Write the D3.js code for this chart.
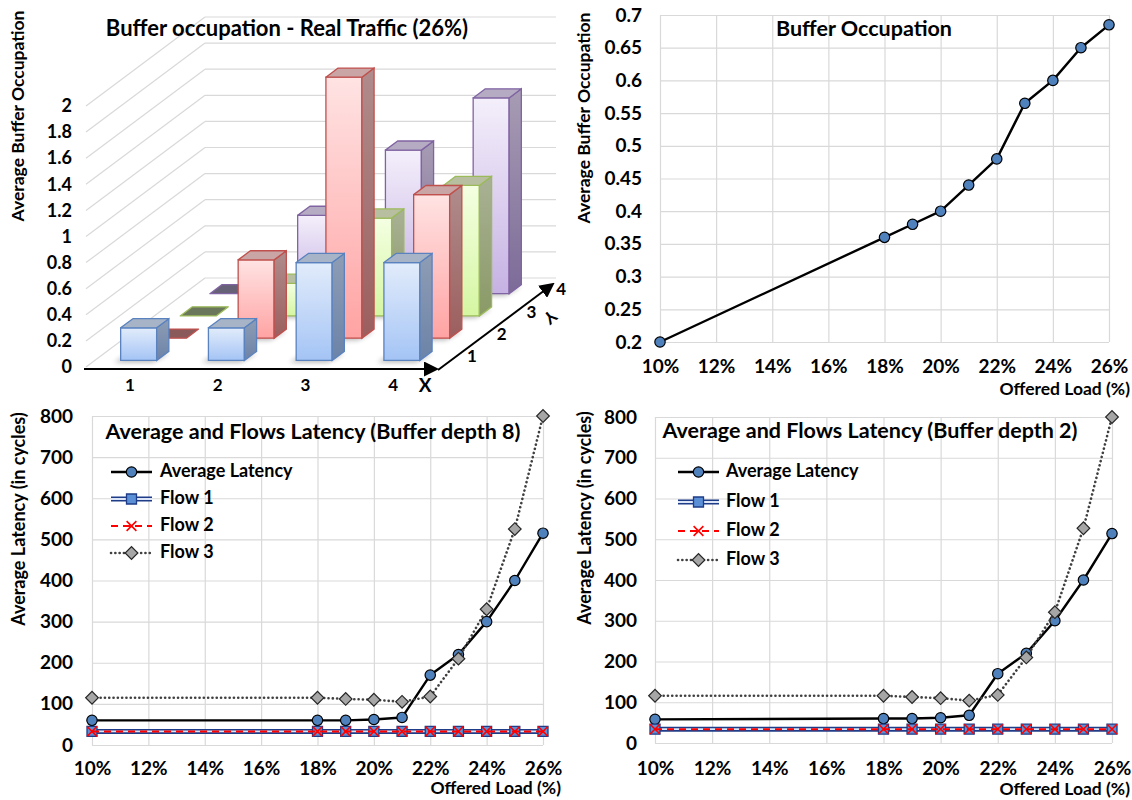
<!DOCTYPE html>
<html>
<head>
<meta charset="utf-8">
<script src="https://cdn.jsdelivr.net/npm/d3@7"></script>
<style>
  body { margin: 0; background: #fff; }
  svg { font-family: Lato, 'Open Sans', sans-serif; font-weight: bold; }
</style>
</head>
<body>
<div id="chart"></div>
<script>
'use strict';

// ---- data: 3D buffer occupation at 26% (rows = Y position, cols = X position)
const xCats = [1, 2, 3, 4];
const yCats = [1, 2, 3, 4];
const occRow1 = [0.25, 0.25, 0.75, 0.75];
const occRow2 = [0, 0.6, 2.0, 1.1];
const occRow3 = [0, 0.25, 0.75, 1.0];
const occRow4 = [0, 0.6, 1.1, 1.5];

// ---- data: offered load sweeps
const loads = [10, 18, 19, 20, 21, 22, 23, 24, 25, 26];
const xTickVals = [10, 12, 14, 16, 18, 20, 22, 24, 26];
const bufferOcc = [0.2, 0.36, 0.38, 0.4, 0.44, 0.48, 0.565, 0.6, 0.65, 0.685];

const avgLatD8   = [60, 60, 60, 62, 67, 170, 220, 300, 400, 515];
const flow1LatD8 = [33, 33, 33, 33, 33, 33, 33, 33, 33, 33];
const flow2LatD8 = [33, 33, 33, 33, 33, 33, 33, 33, 33, 33];
const flow3LatD8 = [115, 115, 112, 110, 105, 118, 210, 330, 525, 800];

const avgLatD2   = [58, 60, 60, 62, 68, 170, 220, 300, 400, 514];
const flow1LatD2 = [34, 34, 34, 34, 34, 34, 34, 34, 34, 34];
const flow2LatD2 = [34, 34, 34, 34, 34, 34, 34, 34, 34, 34];
const flow3LatD2 = [116, 116, 113, 110, 104, 118, 210, 321, 527, 800];

const seriesNames = ['Average Latency', 'Flow 1', 'Flow 2', 'Flow 3'];

const GRID = '#d9d9d9';

const svg = d3.select('#chart').append('svg')
  .attr('width', 1132).attr('height', 800)
  .attr('viewBox', '0 0 1132 800');

const defs = svg.append('defs');

// bar colours (front gradient, border, side, top, flat top)
const BAR = [
  { id: 'blue',   f0: '#e2ecfb', f1: '#a4c4f5', stroke: '#5a82bf', s0: '#8e9db5', s1: '#6c83a8', top: '#a7b4c7', flat: '#7a8aa5' },
  { id: 'red',    f0: '#ffe3e3', f1: '#ffa3a3', stroke: '#c0504d', s0: '#b08c8c', s1: '#9c5e5e', top: '#c9a5a5', flat: '#8a5a5a' },
  { id: 'green',  f0: '#f4ffe2', f1: '#d5f6a2', stroke: '#9bbb59', s0: '#a9b195', s1: '#8a9a66', top: '#b8bea0', flat: '#6b775a' },
  { id: 'purple', f0: '#f4effb', f1: '#c6b2e3', stroke: '#8064a2', s0: '#a79cb4', s1: '#7c6b98', top: '#b5abc3', flat: '#676178' }
];

BAR.forEach(c => {
  const gf = defs.append('linearGradient').attr('id', 'front-' + c.id)
    .attr('x1', 0).attr('y1', 0).attr('x2', 0).attr('y2', 1);
  gf.append('stop').attr('offset', '0%').attr('stop-color', c.f0);
  gf.append('stop').attr('offset', '100%').attr('stop-color', c.f1);
  const gs = defs.append('linearGradient').attr('id', 'side-' + c.id)
    .attr('x1', 0).attr('y1', 0).attr('x2', 0).attr('y2', 1);
  gs.append('stop').attr('offset', '0%').attr('stop-color', c.s0);
  gs.append('stop').attr('offset', '100%').attr('stop-color', c.s1);
});

defs.append('filter').attr('id', 'blur')
  .attr('x', '-50%').attr('y', '-50%').attr('width', '200%').attr('height', '200%')
  .append('feGaussianBlur').attr('stdDeviation', 2.5);

defs.append('marker').attr('id', 'arrow')
  .attr('viewBox', '0 0 10 10').attr('refX', 2).attr('refY', 5)
  .attr('markerWidth', 15).attr('markerHeight', 15).attr('markerUnits', 'userSpaceOnUse')
  .attr('orient', 'auto')
  .append('path').attr('d', 'M0,0 L10,5 L0,10 z').attr('fill', '#000');

// ------------------------------------------
// Panel A: 3D bars
// ------------------------------------------
(function () {
  const g = svg.append('g');
  const depth = [119, -89];
  const yV = d3.scaleLinear().domain([0, 2]).range([367, 106]);
  const xBand = d3.scaleBand().domain(xCats).range([86, 437]);
  const dBand = d3.scaleBand().domain(yCats).range([0, 1]);
  const P = (x, d, v) => [x + d * depth[0], yV(v) + d * depth[1]];
  const poly = pts => 'M' + pts.map(p => p.join(',')).join('L') + 'Z';

  // walls
  const ticks = yV.ticks(10);
  g.append('g').selectAll('line.side').data(ticks).join('line')
    .attr('x1', v => P(86, 0, v)[0]).attr('y1', v => P(86, 0, v)[1])
    .attr('x2', v => P(86, 1, v)[0]).attr('y2', v => P(86, 1, v)[1])
    .attr('stroke', GRID).attr('stroke-width', 1.2);
  g.append('g').selectAll('line.back').data(ticks).join('line')
    .attr('x1', v => P(86, 1, v)[0]).attr('y1', v => P(86, 1, v)[1])
    .attr('x2', v => P(437, 1, v)[0]).attr('y2', v => P(437, 1, v)[1])
    .attr('stroke', GRID).attr('stroke-width', 1.2);

  const ya = g.append('g').attr('transform', 'translate(86,0)')
    .call(d3.axisLeft(yV).ticks(10).tickFormat(d3.format('~g')).tickSize(0).tickPadding(14));
  ya.select('.domain').remove();
  ya.attr('font-size', 18).attr('font-family', null);

  const xa = g.append('g').attr('transform', 'translate(0,369)')
    .call(d3.axisBottom(xBand).tickSize(0).tickPadding(10));
  xa.select('.domain').remove();
  xa.attr('font-size', 17).attr('font-family', null);

  // bars, back row first
  const rows = [occRow1, occRow2, occRow3, occRow4];
  const bars = [];
  yCats.forEach((r, ri) => xCats.forEach((c, ci) => bars.push({ row: r, col: c, v: rows[ri][ci], color: BAR[ri] })));
  bars.sort((a, b) => d3.descending(a.row, b.row) || d3.ascending(a.col, b.col));

  const gb = g.append('g');
  bars.forEach(b => {
    const bw = xBand.bandwidth() * 0.41;
    const x0 = xBand(b.col) + (xBand.bandwidth() - bw) / 2, x1 = x0 + bw;
    const dd = dBand.bandwidth() * 0.41;
    const d0 = dBand(b.row) + (dBand.bandwidth() - dd) / 2, d1 = d0 + dd;
    const c = b.color;
    const bg = gb.append('g');
    if (b.v > 0) {
      bg.append('path')
        .attr('d', poly([P(x0 - 7, d0, 0), P(x1 - 4, d0, 0), P(x1, d1, 0), P(x0 - 3, d1, 0)]))
        .attr('transform', 'translate(0,2)')
        .attr('fill', '#000').attr('opacity', 0.28).attr('filter', 'url(#blur)');
      bg.append('path')
        .attr('d', poly([P(x0, d0, 0), P(x1, d0, 0), P(x1, d0, b.v), P(x0, d0, b.v)]))
        .attr('fill', `url(#front-${c.id})`).attr('stroke', c.stroke).attr('stroke-width', 1.3);
      bg.append('path')
        .attr('d', poly([P(x1, d0, 0), P(x1, d1, 0), P(x1, d1, b.v), P(x1, d0, b.v)]))
        .attr('fill', `url(#side-${c.id})`).attr('stroke', c.stroke).attr('stroke-width', 1.3);
    }
    bg.append('path')
      .attr('d', poly([P(x0, d0, b.v), P(x1, d0, b.v), P(x1, d1, b.v), P(x0, d1, b.v)]))
      .attr('fill', b.v > 0 ? c.top : c.flat).attr('stroke', c.stroke).attr('stroke-width', 1.3)
      .attr('stroke-linejoin', 'round');
  });

  // axes arrows
  g.append('line').attr('x1', 84).attr('y1', 369).attr('x2', 427).attr('y2', 369)
    .attr('stroke', '#000').attr('stroke-width', 2).attr('marker-end', 'url(#arrow)');
  g.append('line').attr('x1', 438).attr('y1', 370).attr('x2', 545).attr('y2', 290)
    .attr('stroke', '#000').attr('stroke-width', 2).attr('marker-end', 'url(#arrow)');

  g.append('text').attr('x', 425).attr('y', 387).attr('text-anchor', 'middle')
    .attr('dominant-baseline', 'middle').attr('font-size', 19).text('X');

  g.append('g').selectAll('text').data(yCats).join('text')
    .attr('x', r => P(437, dBand(r) + dBand.bandwidth() / 2, 0)[0] + 20)
    .attr('y', r => P(437, dBand(r) + dBand.bandwidth() / 2, 0)[1] + 2)
    .attr('text-anchor', 'middle').attr('dominant-baseline', 'middle')
    .attr('font-size', 17).text(r => r);

  g.append('text').attr('transform', 'translate(549,316) rotate(140)')
    .attr('text-anchor', 'middle').attr('dominant-baseline', 'middle')
    .attr('font-size', 17).text('Y');

  g.append('text').attr('x', 287).attr('y', 30).attr('text-anchor', 'middle')
    .attr('dominant-baseline', 'middle').attr('font-size', 22)
    .text('Buffer occupation - Real Traffic (26%)');

  g.append('text').attr('transform', 'translate(20,116) rotate(-90)')
    .attr('text-anchor', 'middle').attr('dominant-baseline', 'middle')
    .attr('font-size', 17.5).text('Average Buffer Occupation');
})();

// ------------------------------------------
// line panels
// ------------------------------------------
function drawMarker(g, type, x, y) {
  if (type === 'circle') {
    g.append('circle').attr('cx', x).attr('cy', y).attr('r', 5.2)
      .attr('fill', '#4f81bd').attr('stroke', '#000').attr('stroke-width', 1.2);
  } else if (type === 'square') {
    g.append('path').attr('d', d3.symbol(d3.symbolSquare, 100)())
      .attr('transform', `translate(${x},${y})`)
      .attr('fill', '#5b8fd6').attr('stroke', '#1f3c88').attr('stroke-width', 1.3);
  } else if (type === 'x') {
    g.append('path').attr('d', d3.symbol(d3.symbolX, 64)())
      .attr('transform', `translate(${x},${y})`)
      .attr('fill', 'none').attr('stroke', '#ff0000').attr('stroke-width', 1.6);
  } else if (type === 'diamond') {
    g.append('path').attr('d', d3.symbol(d3.symbolSquare, 80)())
      .attr('transform', `translate(${x},${y}) rotate(45)`)
      .attr('fill', '#a6a6a6').attr('stroke', '#262626').attr('stroke-width', 1.2);
  }
}

const LINE_STYLE = [
  { marker: 'circle',  strokes: [{ c: '#000', w: 2.4 }] },
  { marker: 'square',  strokes: [{ c: '#1f3c88', w: 5 }, { c: '#dde6f6', w: 1.8 }] },
  { marker: 'x',       strokes: [{ c: '#ff0000', w: 2, dash: '7,5' }] },
  { marker: 'diamond', strokes: [{ c: '#404040', w: 2.6, dash: '0.1,4.2', cap: 'round' }] }
];

function linePanel(cfg) {
  const g = svg.append('g');
  const x = d3.scaleLinear().domain([10, 26]).range([cfg.x0, cfg.x1]);
  const y = d3.scaleLinear().domain(cfg.yDomain).range([cfg.y1, cfg.y0]);
  const w = cfg.x1 - cfg.x0, h = cfg.y1 - cfg.y0;

  const xa = g.append('g').attr('transform', `translate(0,${cfg.y1})`)
    .call(d3.axisBottom(x).tickValues(xTickVals).tickFormat(d => d + '%')
      .tickSize(-h).tickSizeOuter(0).tickPadding(cfg.xPad));
  const ya = g.append('g').attr('transform', `translate(${cfg.x0},0)`)
    .call(d3.axisLeft(y).tickValues(cfg.yTicks).tickFormat(cfg.yFmt)
      .tickSize(-w).tickSizeOuter(0).tickPadding(cfg.yPad));
  [xa, ya].forEach(a => {
    a.select('.domain').remove();
    a.attr('font-size', 19).attr('font-family', null);
    a.selectAll('line').attr('stroke', GRID).attr('stroke-width', 1.2);
    a.selectAll('text').attr('fill', '#000');
  });

  const line = d3.line().x((d, i) => x(loads[i])).y(d => y(d));
  cfg.series.forEach((vals, si) => {
    const st = cfg.styles[si];
    st.strokes.forEach(s => {
      g.append('path').attr('d', line(vals)).attr('fill', 'none')
        .attr('stroke', s.c).attr('stroke-width', s.w)
        .attr('stroke-dasharray', s.dash || null)
        .attr('stroke-linecap', s.cap || 'butt')
        .attr('stroke-linejoin', 'round');
    });
    vals.forEach((v, i) => drawMarker(g, st.marker, x(loads[i]), y(v)));
  });

  if (cfg.legend) {
    const L = cfg.legend;
    cfg.series.forEach((vals, si) => {
      const st = cfg.styles[si];
      const ly = L.y[si];
      st.strokes.forEach(s => {
        g.append('line').attr('x1', L.x1).attr('x2', L.x2).attr('y1', ly).attr('y2', ly)
          .attr('stroke', s.c).attr('stroke-width', s.w)
          .attr('stroke-dasharray', s.dash || null)
          .attr('stroke-linecap', s.cap || 'butt');
      });
      drawMarker(g, st.marker, (L.x1 + L.x2) / 2, ly);
      g.append('text').attr('x', L.tx).attr('y', ly).attr('dominant-baseline', 'middle')
        .attr('font-size', 18).text(seriesNames[si]);
    });
  }

  g.append('text').attr('x', cfg.titleX).attr('y', cfg.titleY).attr('text-anchor', 'middle')
    .attr('dominant-baseline', 'middle').attr('font-size', 21.5).text(cfg.title);
  g.append('text').attr('transform', `translate(${cfg.yLabelX},${cfg.yLabelY}) rotate(-90)`)
    .attr('text-anchor', 'middle').attr('dominant-baseline', 'middle')
    .attr('font-size', cfg.yLabelSize).text(cfg.yLabel);
  g.append('text').attr('x', cfg.xLabelX).attr('y', cfg.xLabelY).attr('text-anchor', 'end')
    .attr('dominant-baseline', 'middle').attr('font-size', 17.5).text('Offered Load (%)');
}

// Panel B: buffer occupation vs load
linePanel({
  x0: 660, x1: 1109, y0: 15, y1: 342,
  yDomain: [0.2, 0.7], yTicks: d3.range(0, 11).map(i => 0.2 + i * 0.05),
  yFmt: d => String(+d.toFixed(2)), xPad: 18, yPad: 18,
  series: [bufferOcc], styles: [LINE_STYLE[0]],
  title: 'Buffer Occupation', titleX: 864, titleY: 30,
  yLabel: 'Average Buffer Occupation', yLabelX: 586, yLabelY: 118, yLabelSize: 17.5,
  xLabelX: 1130, xLabelY: 391
});

// Panel C: latency, buffer depth 8
linePanel({
  x0: 92, x1: 543, y0: 416, y1: 745,
  yDomain: [0, 800], yTicks: d3.range(0, 801, 100),
  yFmt: d => d, xPad: 17, yPad: 19,
  series: [avgLatD8, flow1LatD8, flow2LatD8, flow3LatD8], styles: LINE_STYLE,
  legend: { x1: 111, x2: 152, tx: 160, y: [472, 499, 526, 553] },
  title: 'Average and Flows Latency (Buffer depth 8)', titleX: 313, titleY: 433,
  yLabel: 'Average Latency (in cycles)', yLabelX: 20, yLabelY: 519, yLabelSize: 18,
  xLabelX: 561, xLabelY: 790
});

// Panel D: latency, buffer depth 2
linePanel({
  x0: 655, x1: 1112, y0: 417, y1: 743,
  yDomain: [0, 800], yTicks: d3.range(0, 801, 100),
  yFmt: d => d, xPad: 19, yPad: 18,
  series: [avgLatD2, flow1LatD2, flow2LatD2, flow3LatD2], styles: LINE_STYLE,
  legend: { x1: 678, x2: 719, tx: 726, y: [472, 502, 531, 560] },
  title: 'Average and Flows Latency (Buffer depth 2)', titleX: 870, titleY: 432,
  yLabel: 'Average Latency (in cycles)', yLabelX: 586, yLabelY: 518, yLabelSize: 18,
  xLabelX: 1130, xLabelY: 791
});
</script>
</body>
</html>
